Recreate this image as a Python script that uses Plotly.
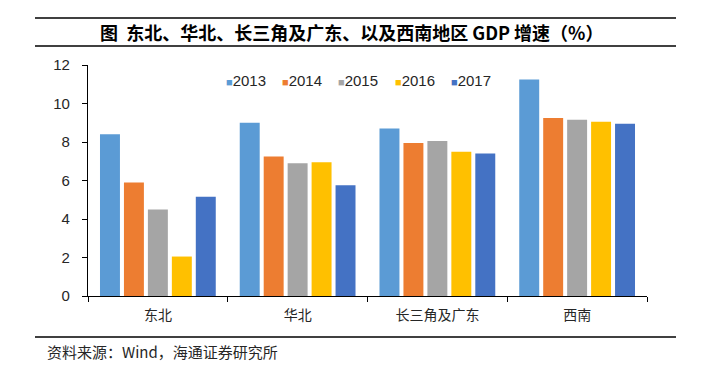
import plotly.graph_objects as go

regions = ["东北", "华北", "长三角及广东", "西南"]
years = ["2013", "2014", "2015", "2016", "2017"]
v2013 = [8.4, 9.0, 8.7, 11.25]
v2014 = [5.9, 7.25, 7.95, 9.25]
v2015 = [4.5, 6.9, 8.05, 9.15]
v2016 = [2.05, 6.95, 7.5, 9.05]
v2017 = [5.15, 5.75, 7.4, 8.95]
colors = ["#5B9BD5", "#ED7D31", "#A5A5A5", "#FFC000", "#4472C4"]
title_text = "<b>图&nbsp;&nbsp;东北、华北、长三角及广东、以及西南地区 GDP 增速（%）</b>"
source_text = "资料来源：Wind，海通证券研究所"

series = [v2013, v2014, v2015, v2016, v2017]

fig = go.Figure()
for name, vals, col in zip(years, series, colors):
    fig.add_trace(go.Bar(x=regions, y=vals, name=name, marker_color=col,
                         marker_line_width=0, showlegend=False))

# page body has an 8px margin; work in page pixels and convert
OFF = 8
W, H = 717 - 2 * OFF, 372 - 2 * OFF
PL, PR, PT, PB = 88, 647, 65, 296  # plot area in page pixels
L, T = PL - OFF, PT - OFF
R = W - (PR - OFF)
B = H - (PB - OFF)
pw, ph = PR - PL, PB - PT

def px_x(x):
    return (x - PL) / pw

def px_y(y):
    return (PB - y) / ph

fig.update_layout(
    width=W, height=H,
    margin=dict(l=L, r=R, t=T, b=B, pad=0),
    plot_bgcolor="white", paper_bgcolor="white",
    bargap=0.143, bargroupgap=0.167,
    font=dict(family="Liberation Sans, Arial, sans-serif", size=15, color="#262626"),
    xaxis=dict(showline=True, linecolor="black", linewidth=1.2,
               ticks="outside", tickson="boundaries", ticklen=5, tickcolor="black",
               ticklabelstandoff=6,
               tickfont=dict(family="Noto Sans CJK SC", size=14, color="#262626"),
               showgrid=False, fixedrange=True),
    yaxis=dict(range=[0, 12], dtick=2, showline=True, linecolor="black", linewidth=1.2,
               ticks="outside", ticklen=5, tickcolor="black", showgrid=False,
               zeroline=False, ticklabelstandoff=9,
               tickfont=dict(size=15, color="#262626"), fixedrange=True),
)

# legend row (compact, as in the reference)
leg_x0, leg_step, leg_y = 225, 56.2, 80
for i, (name, col) in enumerate(zip(years, colors)):
    fig.add_annotation(
        text=f'<span style="color:{col};font-size:11px">■</span>{name}',
        xref="paper", yref="paper", x=px_x(leg_x0 + i * leg_step), y=px_y(leg_y),
        xanchor="left", yanchor="middle", showarrow=False, borderpad=0,
        font=dict(size=15, color="#262626"))

line = dict(color="black", width=1.5)
for yy in (18, 46, 337):
    fig.add_shape(type="line", xref="paper", yref="paper",
                  x0=px_x(35), x1=px_x(676), y0=px_y(yy), y1=px_y(yy), line=line)

fig.add_annotation(text=title_text, xref="paper", yref="paper",
                   x=px_x(351), y=px_y(32), xanchor="center", yanchor="middle",
                   showarrow=False,
                   font=dict(family="Noto Sans CJK SC", size=18, color="black"))
fig.add_annotation(text=source_text, xref="paper", yref="paper",
                   x=px_x(45), y=px_y(351), xanchor="left", yanchor="middle",
                   showarrow=False,
                   font=dict(family="Noto Sans CJK SC", size=15, color="#262626"))

fig.write_html("out.html")
